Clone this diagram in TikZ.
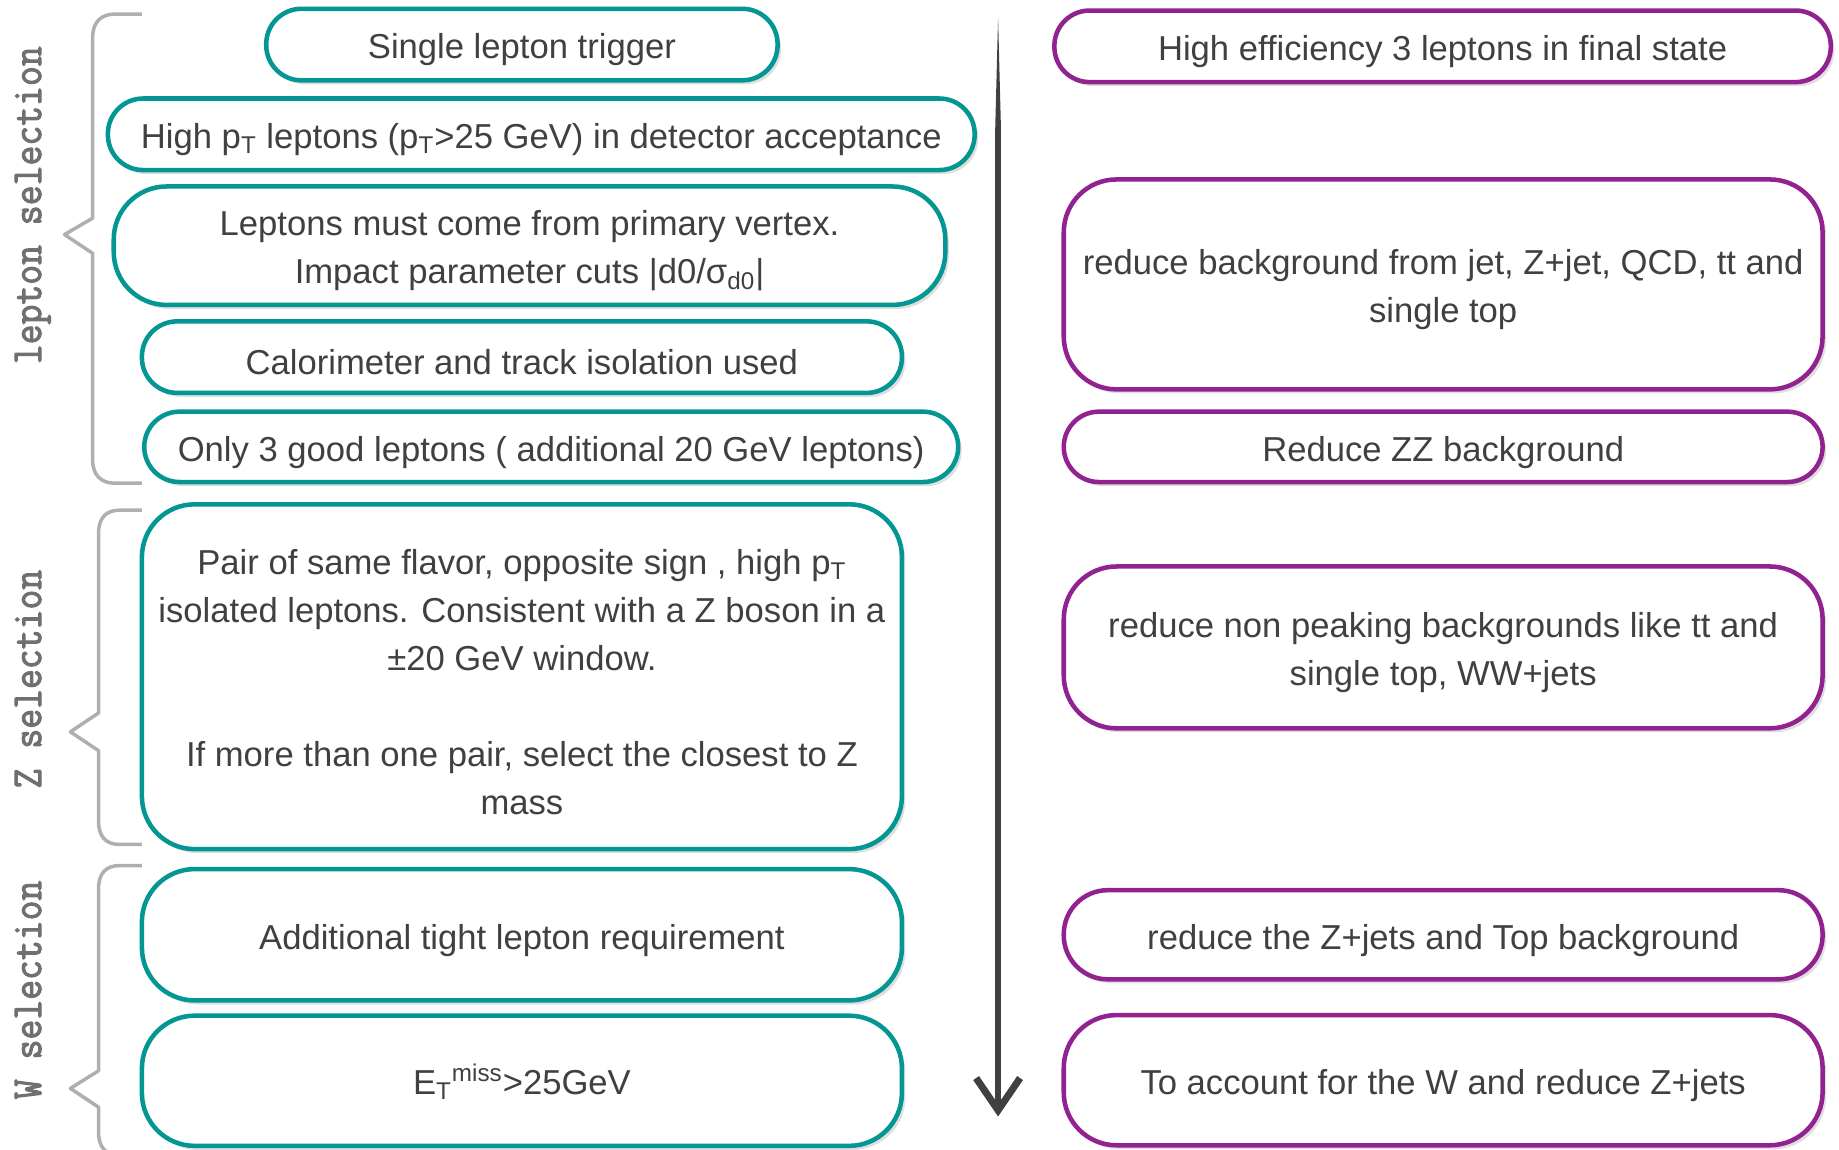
\documentclass[tikz,border=0pt]{standalone}
\usepackage{fontspec}
\setmainfont{Liberation Sans}
\newfontfamily\groupfont{Latin Modern Mono}[FakeBold=2.4, FakeStretch=0.9]
\usetikzlibrary{arrows.meta,shadows}
\definecolor{tealline}{RGB}{3,150,146}
\definecolor{purpleline}{RGB}{146,34,144}
\definecolor{textgray}{RGB}{64,64,64}
\definecolor{bracegray}{RGB}{175,175,175}
\definecolor{labelgray}{RGB}{112,112,112}
\definecolor{flowgray}{RGB}{64,64,64}

\begin{document}
\begin{tikzpicture}[x=0.2mm, y=-0.2mm,
  box/.style = {draw, fill=white, line width=2.2pt, rounded corners=0.9cm, inner sep=0pt, drop shadow={shadow xshift=0.6mm, shadow yshift=-0.7mm, opacity=0.25}},
  boxtext/.style = {align=center, text=textgray, inner sep=0pt, yshift=-2.6pt, font=\fontsize{16.8}{23.3}\selectfont},
  pill/.style = {rounded corners=0.6cm},
  cutbox/.style = {box, draw=tealline},
  aimbox/.style = {box, draw=purpleline},
  groupbrace/.style = {draw=bracegray, line width=1.7pt, line join=round},
  grouplabel/.style = {rotate=90, anchor=base, inner sep=0pt, text=labelgray, font=\groupfont\fontsize{20.8}{22}\selectfont},
  flowarrow/.style = {flowgray, line width=2.8pt, -{Straight Barb[length=5.5mm, width=7.5mm, line width=3.4pt]}}]
  \useasboundingbox (0,0) rectangle (1568,980);
  \clip (0,0) rectangle (1568,980);

  \node[cutbox, pill, minimum width=8.72cm, minimum height=1.22cm, label={[boxtext]center:Single lepton trigger}] (l1) at (445,38) {};
  \node[cutbox, pill, minimum width=14.78cm, minimum height=1.22cm, label={[boxtext]center:High p\textsubscript{T} leptons (p\textsubscript{T}>25 GeV) in detector acceptance}] (l2) at (461.5,114.5) {};
  \node[cutbox, minimum width=14.18cm, minimum height=2.02cm, label={[boxtext]center:{Leptons must come from primary vertex.\\Impact parameter cuts |d0/σ\textsubscript{d0}|}}] (l3) at (451.5,209.5) {};
  \node[cutbox, pill, minimum width=12.96cm, minimum height=1.22cm, label={[boxtext]center:Calorimeter and track isolation used}] (l4) at (445,304.5) {};
  \node[cutbox, pill, minimum width=13.88cm, minimum height=1.2cm, label={[boxtext]center:Only 3 good leptons ( additional 20 GeV leptons)}] (l5) at (470,381) {};
  \node[cutbox, minimum width=12.96cm, minimum height=5.88cm, label={[boxtext]center:{Pair of same flavor, opposite sign , high p\textsubscript{T}\\isolated leptons. Consistent with a Z boson in a\\±20 GeV window.\\[23.3pt]If more than one pair, select the closest to Z\\mass}}] (l6) at (445,577) {};
  \node[cutbox, minimum width=12.96cm, minimum height=2.24cm, label={[boxtext]center:Additional tight lepton requirement}] (l7) at (445,797) {};
  \node[cutbox, minimum width=12.96cm, minimum height=2.22cm, label={[boxtext, yshift=2pt]center:E\textsubscript{T}\textsuperscript{miss}>25GeV}] (l8) at (445,921.5) {};

  \node[aimbox, pill, minimum width=13.24cm, minimum height=1.22cm, label={[boxtext]center:High efficiency 3 leptons in final state}] (r1) at (1230,39.5) {};
  \node[aimbox, minimum width=12.94cm, minimum height=3.58cm, label={[boxtext]center:{reduce background from jet, Z+jet, QCD, tt and\\single top}}] (r2) at (1230.5,242.5) {};
  \node[aimbox, pill, minimum width=12.94cm, minimum height=1.2cm, label={[boxtext]center:Reduce ZZ background}] (r3) at (1230.5,381) {};
  \node[aimbox, minimum width=12.94cm, minimum height=2.76cm, label={[boxtext]center:{reduce non peaking backgrounds like tt and\\single top, WW+jets}}] (r4) at (1230.5,552) {};
  \node[aimbox, rounded corners=0.75cm, minimum width=12.94cm, minimum height=1.52cm, label={[boxtext]center:reduce the Z+jets and Top background}] (r5) at (1230.5,797) {};
  \node[aimbox, minimum width=12.94cm, minimum height=2.22cm, label={[boxtext]center:To account for the W and reduce Z+jets}] (r6) at (1230.5,921) {};

  \draw[groupbrace] (121,12) -- (98,12) .. controls (86,12) and (79,19) .. (79,32) -- (79,186) -- (55,200) -- (79,216) -- (79,392) .. controls (79,405) and (86,412) .. (98,412) -- (121,412);
  \draw[groupbrace] (121,435) -- (102,435) .. controls (90,435) and (84,442) .. (84,455) -- (84,608) -- (60,624) -- (84,640) -- (84,700) .. controls (84,713) and (90,720) .. (102,720) -- (121,720);
  \draw[groupbrace] (121,738) -- (102,738) .. controls (90,738) and (84,745) .. (84,758) -- (84,913) -- (60,928) -- (84,944) -- (84,965) .. controls (84,978) and (90,985) .. (102,985) -- (121,985);

  \node[grouplabel] (g1) at (35,175) {lepton selection};
  \node[grouplabel] (g2) at (35,579) {Z selection};
  \node[grouplabel] (g3) at (35,844) {W selection};

  \coordinate (ftop) at (851,15);
  \coordinate (fmid) at (851,110);
  \coordinate (fend) at (851,952);
  \fill[flowgray] (ftop) -- ([xshift=1.4pt]fmid) -- ([xshift=-1.4pt]fmid) -- cycle;
  \draw[flowarrow] (fmid) -- (fend);
\end{tikzpicture}
\end{document}
